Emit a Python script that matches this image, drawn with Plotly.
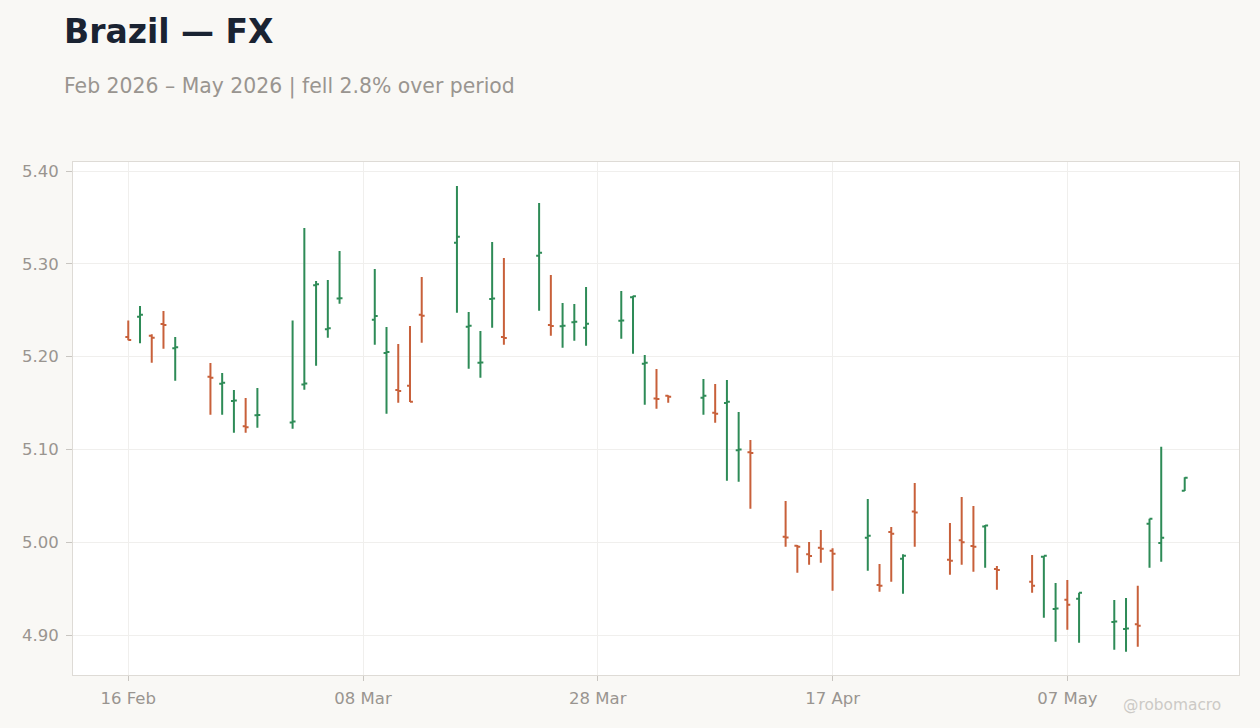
import plotly.graph_objects as go

dates = [
    "2026-02-16", "2026-02-17", "2026-02-18", "2026-02-19", "2026-02-20",
    "2026-02-23", "2026-02-24", "2026-02-25", "2026-02-26", "2026-02-27",
    "2026-03-02", "2026-03-03", "2026-03-04", "2026-03-05", "2026-03-06",
    "2026-03-09", "2026-03-10", "2026-03-11", "2026-03-12", "2026-03-13",
    "2026-03-16", "2026-03-17", "2026-03-18", "2026-03-19", "2026-03-20",
    "2026-03-23", "2026-03-24", "2026-03-25", "2026-03-26", "2026-03-27",
    "2026-03-30", "2026-03-31", "2026-04-01", "2026-04-02", "2026-04-03",
    "2026-04-06", "2026-04-07", "2026-04-08", "2026-04-09", "2026-04-10",
    "2026-04-13", "2026-04-14", "2026-04-15", "2026-04-16", "2026-04-17",
    "2026-04-20", "2026-04-21", "2026-04-22", "2026-04-23", "2026-04-24",
    "2026-04-27", "2026-04-28", "2026-04-29", "2026-04-30", "2026-05-01",
    "2026-05-04", "2026-05-05", "2026-05-06", "2026-05-07", "2026-05-08",
    "2026-05-11", "2026-05-12", "2026-05-13", "2026-05-14", "2026-05-15",
    "2026-05-17",
]
open_ = [
    5.221, 5.243, 5.2225, 5.235, 5.209,
    5.1784, 5.1708, 5.1522, 5.125, 5.1368,
    5.129, 5.170, 5.277, 5.2295, 5.2625,
    5.2398, 5.204, 5.164, 5.1687, 5.245,
    5.3228, 5.2322, 5.1933, 5.2622, 5.221,
    5.3088, 5.234, 5.2328, 5.2371, 5.2311,
    5.2385, 5.264, 5.1923, 5.1548, 5.1579,
    5.1557, 5.1396, 5.150, 5.099, 5.097,
    5.006, 4.9962, 4.987, 4.994, 4.9909,
    5.0048, 4.954, 5.011, 4.9822, 5.033,
    4.981, 5.002, 4.996, 5.017, 4.971,
    4.9575, 4.9844, 4.9281, 4.938, 4.9391,
    4.9141, 4.9066, 4.9115, 5.0199, 4.9991,
    5.0555,
]
high = [
    5.239, 5.2545, 5.224, 5.2491, 5.2211,
    5.1931, 5.1823, 5.164, 5.1554, 5.1662,
    5.239, 5.3386, 5.2815, 5.2825, 5.3138,
    5.2944, 5.2319, 5.2136, 5.233, 5.2858,
    5.3838, 5.2481, 5.2276, 5.3235, 5.3062,
    5.3655, 5.2879, 5.2578, 5.2567, 5.275,
    5.2707, 5.2655, 5.2017, 5.1866, 5.1583,
    5.1759, 5.1705, 5.1748, 5.1403, 5.1101,
    5.0444, 4.997, 5.0002, 5.0131, 4.9934,
    5.0466, 4.9765, 5.0164, 4.987, 5.0638,
    5.0207, 5.0487, 5.039, 5.0185, 4.9744,
    4.9862, 4.9855, 4.956, 4.9593, 4.9456,
    4.9377, 4.9399, 4.9531, 5.0253, 5.1029,
    5.070,
]
low = [
    5.2177, 5.2143, 5.1934, 5.2085, 5.174,
    5.1374, 5.1374, 5.118, 5.118, 5.1234,
    5.1223, 5.1643, 5.1902, 5.2204, 5.257,
    5.2128, 5.1385, 5.1503, 5.151, 5.215,
    5.2473, 5.187, 5.1773, 5.2312, 5.2129,
    5.2495, 5.2225, 5.2096, 5.2171, 5.2117,
    5.2193, 5.2031, 5.1482, 5.1439, 5.1503,
    5.1374, 5.1288, 5.0663, 5.0652, 5.036,
    4.9952, 4.9671, 4.9758, 4.9779, 4.9477,
    4.9693, 4.9467, 4.9574, 4.9445, 4.9952,
    4.965, 4.9758, 4.9682, 4.9725, 4.9488,
    4.9456, 4.9187, 4.8928, 4.9057, 4.8917,
    4.8842, 4.882, 4.8874, 4.9725, 4.979,
    5.0552,
]
close = [
    5.218, 5.245, 5.2204, 5.234, 5.210,
    5.1773, 5.1719, 5.1528, 5.124, 5.1372,
    5.130, 5.171, 5.278, 5.2305, 5.263,
    5.2437, 5.205, 5.163, 5.1514, 5.244,
    5.3292, 5.2333, 5.1937, 5.2626, 5.220,
    5.312, 5.233, 5.2332, 5.2375, 5.2354,
    5.2389, 5.265, 5.1934, 5.1544, 5.1568,
    5.1579, 5.1385, 5.1514, 5.100, 5.096,
    5.005, 4.9952, 4.985, 4.993, 4.9876,
    5.007, 4.953, 5.009, 4.9855, 5.032,
    4.980, 5.000, 4.995, 5.018, 4.970,
    4.9531, 4.9855, 4.9285, 4.9327, 4.9456,
    4.9145, 4.907, 4.910, 5.0253, 5.0049,
    5.0695,
]

tick_vals = ["2026-02-16", "2026-03-08", "2026-03-28", "2026-04-17", "2026-05-07"]
tick_text = ["16 Feb", "08 Mar", "28 Mar", "17 Apr", "07 May"]
y_ticks = [4.90, 5.00, 5.10, 5.20, 5.30, 5.40]

GREEN = "#2e8b57"
RED = "#c8603a"
FONT = "DejaVu Sans, sans-serif"

fig = go.Figure(
    go.Ohlc(
        x=dates, open=open_, high=high, low=low, close=close,
        increasing=dict(line=dict(color=GREEN, width=2)),
        decreasing=dict(line=dict(color=RED, width=2)),
        tickwidth=0.25,
        showlegend=False,
    )
)

fig.update_layout(
    width=1260, height=728,
    margin=dict(l=73, r=21, t=162, b=53),
    paper_bgcolor="#f9f8f5",
    plot_bgcolor="#ffffff",
    font=dict(family=FONT, color="#999590", size=16),
    showlegend=False,
    xaxis=dict(
        type="date",
        range=["2026-02-11 07:00", "2026-05-21 15:00"],
        tickvals=tick_vals, ticktext=tick_text,
        showgrid=True, gridcolor="#f0efed", gridwidth=1,
        rangeslider=dict(visible=False),
        showline=True, linecolor="#dedbd6", linewidth=1, mirror=True,
        ticks="outside", ticklen=5, tickcolor="#c9c6c1",
        ticklabelstandoff=3,
        tickfont=dict(size=16.5, color="#999590"),
        zeroline=False,
    ),
    yaxis=dict(
        range=[4.8569, 5.4097],
        tickvals=y_ticks, tickformat=".2f",
        showgrid=True, gridcolor="#f0efed", gridwidth=1,
        showline=True, linecolor="#dedbd6", linewidth=1, mirror=True,
        ticks="outside", ticklen=6, tickcolor="#c9c6c1",
        ticklabelstandoff=4,
        tickfont=dict(size=16.5, color="#999590"),
        zeroline=False,
    ),
    annotations=[
        dict(text="<b>Brazil — FX</b>", x=62, y=31, xref="paper", yref="paper",
             showarrow=False, xanchor="left", yanchor="middle",
             font=dict(family=FONT, size=33, color="#1a2332")),
        dict(text="Feb 2026 – May 2026 | fell 2.8% over period", x=62, y=86,
             xref="paper", yref="paper", showarrow=False, xanchor="left", yanchor="middle",
             font=dict(family=FONT, size=20.4, color="#999590")),
        dict(text="@robomacro", x=1223, y=705, xref="paper", yref="paper",
             showarrow=False, xanchor="right", yanchor="middle",
             font=dict(family=FONT, size=15.4, color="#cccac6")),
    ],
)

# convert pixel positions of annotations to paper coords
plot_w = 1260 - 73 - 21
plot_h = 728 - 162 - 53
for a in fig.layout.annotations:
    a.x = (a.x - 73) / plot_w
    a.y = (728 - 53 - a.y) / plot_h

fig.write_html("out.html")
